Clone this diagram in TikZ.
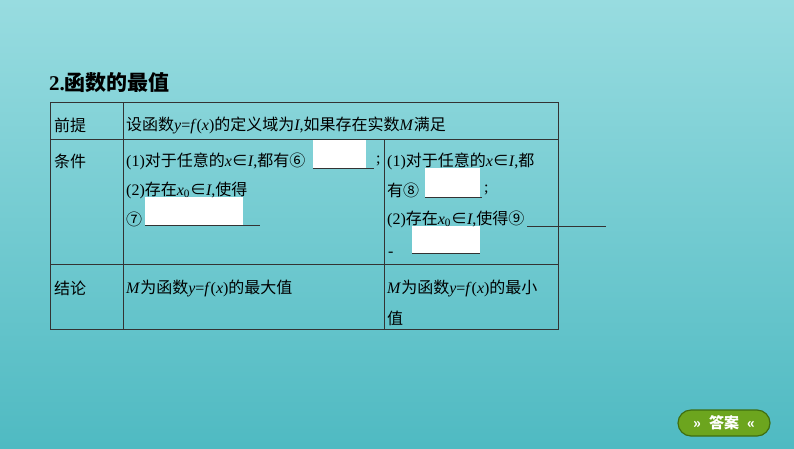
\documentclass[tikz,border=0pt]{standalone}
\usepackage{fontspec}
\setmainfont{Liberation Serif}
\newfontfamily\zh{Noto Sans CJK SC}
\newcommand{\iv}[1]{\textit{#1}}
\definecolor{bgtop}{HTML}{98DCE0}
\definecolor{bgbot}{HTML}{4FBAC2}
\definecolor{btng}{HTML}{6CA51E}
\definecolor{btnd}{HTML}{3F6E10}
\begin{document}
\begin{tikzpicture}[x=1pt,y=-1pt,
  txt/.style={anchor=west,inner sep=0pt,font=\fontsize{16}{18}\selectfont},
  blank/.style={fill=white,draw=none},
  uline/.style={line width=0.9pt,black!80}]
\useasboundingbox (0,0) rectangle (794,448);
\shade[top color=bgtop, bottom color=bgbot] (0,0) rectangle (794,448);
\node[txt,font=\fontsize{21}{24}\selectfont\bfseries] (title) at (49,83) {2.{\zh\bfseries 函数的最值}};
% table
\draw[line width=0.7pt,black!80] (50,102) rectangle (558,329);
\draw[line width=0.7pt,black!80] (50,139) -- (558,139) (50,264) -- (558,264)
  (123,102) -- (123,329) (384,139) -- (384,329);
% blanks
\fill[blank] (313,140) rectangle (366,168);
\draw[uline] (313,168) -- (374,168);
\fill[blank] (145,197) rectangle (243,225);
\draw[uline] (145,225) -- (260,225);
\fill[blank] (425,168) rectangle (480,197);
\draw[uline] (425,197) -- (482,197);
\draw[uline] (527,226) -- (606,226);
\fill[blank] (412,226) rectangle (480,253);
\draw[uline] (412,253) -- (480,253);
% texts
\node[txt] (p) at (54,125) {\zh 前提};
\node[txt] (pt) at (126,125) {{\zh 设函数}\iv{y}=\iv{f}(\iv{x}){\zh 的定义域为}\iv{I},{\zh 如果存在实数}\iv{M}{\zh 满足}};
\node[txt] (c) at (54,161) {\zh 条件};
\node[txt] (c1) at (126,161) {(1){\zh 对于任意的}\iv{x}{\zh ∈}\iv{I},{\zh 都有⑥}};
\node[txt] (c1s) at (376,161) {;};
\node[txt] (c2) at (126,190) {(2){\zh 存在}\iv{x}\textsubscript{0}{\zh ∈}\iv{I},{\zh 使得}};
\node[txt] (c3) at (126,219) {\zh ⑦};
\node[txt] (d1) at (387,161) {(1){\zh 对于任意的}\iv{x}{\zh ∈}\iv{I},{\zh 都}};
\node[txt] (d2) at (387,190) {{\zh 有⑧}};
\node[txt] (d2s) at (484,190) {;};
\node[txt] (d3) at (387,219) {(2){\zh 存在}\iv{x}\textsubscript{0}{\zh ∈}\iv{I},{\zh 使得⑨}};
\node[txt] (d4) at (388,254) {-};
\node[txt] (j) at (54,288) {\zh 结论};
\node[txt] (j1) at (126,288) {\iv{M}{\zh 为函数}\iv{y}=\iv{f}(\iv{x}){\zh 的最大值}};
\node[txt] (k1) at (387,288) {\iv{M}{\zh 为函数}\iv{y}=\iv{f}(\iv{x}){\zh 的最小}};
\node[txt] (k2) at (387,318) {\zh 值};
% button
\node[draw=btnd,line width=1.2pt,fill=btng,rounded corners=13pt,minimum width=92pt,minimum height=26pt,text=white,font=\zh\bfseries\fontsize{15}{16}\selectfont] (btn) at (724,423) {{\fontsize{14}{14}\selectfont»}\hspace{8pt}答案\hspace{8pt}{\fontsize{14}{14}\selectfont«}};
\end{tikzpicture}
\end{document}
